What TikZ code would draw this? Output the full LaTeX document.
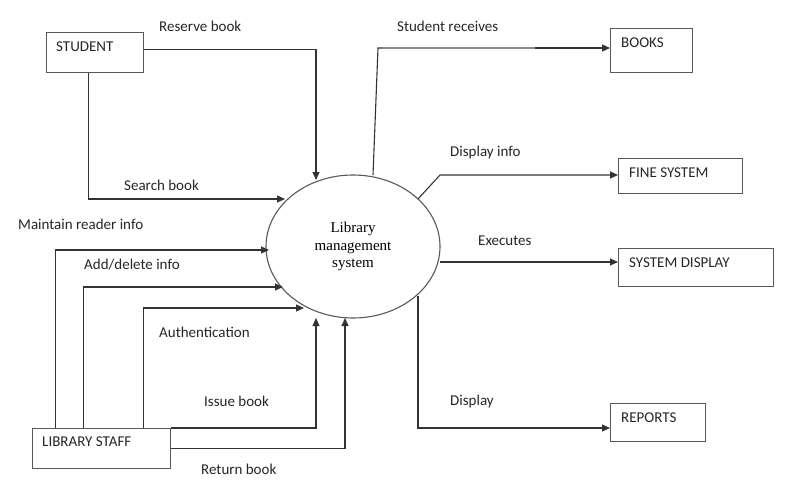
\documentclass[tikz,border=0pt]{standalone}
\usepackage{fontspec}
\setmainfont{Carlito}
\newfontfamily\serifcap{Liberation Serif}
\usetikzlibrary{arrows.meta,shapes.geometric}
\begin{document}
\begin{tikzpicture}[x=1pt,y=-1pt,
  every node/.style={font=\fontsize{15}{17}\selectfont},
  box/.style={draw=black!65,line width=1.1pt,anchor=north west,inner sep=0pt},
  lbl/.style={anchor=west,inner sep=0pt,text=black!85},
  arr/.style={draw=black!80,line width=1.1pt,-{Triangle[length=8pt,width=7pt]}},
  ln/.style={draw=black!80,line width=1.1pt}]
\useasboundingbox[fill=white] (0,0) rectangle (794,495);
% boxes
\node[box,minimum width=97pt,minimum height=40pt] (student) at (46,32) {};
\node[box,minimum width=138pt,minimum height=40pt] (staff) at (32,428) {};
\node[box,minimum width=82pt,minimum height=44pt] (books) at (610,28) {};
\node[box,minimum width=124pt,minimum height=35pt] (fine) at (618,158) {};
\node[box,minimum width=155pt,minimum height=38pt] (sysd) at (618,248) {};
\node[box,minimum width=95pt,minimum height=38pt] (reports) at (610,403) {};
% box texts
\node[lbl] (tstudent) at (56,47) {STUDENT};
\node[lbl] (tstaff) at (42,442) {LIBRARY STAFF};
\node[lbl] (tbooks) at (621,43) {BOOKS};
\node[lbl] (tfine) at (629,173) {FINE SYSTEM};
\node[lbl] (tsysd) at (629,263) {SYSTEM DISPLAY};
\node[lbl] (treports) at (621,418) {REPORTS};
% process
\node[ellipse,draw=black!65,line width=1.1pt,minimum width=174pt,minimum height=143pt,inner sep=0pt,
      align=center,font=\serifcap\fontsize{15}{17.5}\selectfont] (lms) at (353,246.5)
      {\raisebox{-2.5pt}{\parbox{80pt}{\centering Library\\management\\system}}};
% connector end points
\coordinate (rbEnd) at (316,180);
\coordinate (sbEnd) at (285,199);
\coordinate (mEnd) at (269,250);
\coordinate (aEnd) at (283,287);
\coordinate (auEnd) at (304,308);
\coordinate (ibEnd) at (316,318);
\coordinate (rtEnd) at (345,318);
\coordinate (sr0) at (373,175);
\coordinate (sr1) at (378,48);
\coordinate (di0) at (418,199);
\coordinate (di1) at (440,175);
\coordinate (ex0) at (440,262);
\coordinate (dp0) at (418,296);
\coordinate (dp1) at (418,428);
% left connectors
\draw[arr] ([yshift=3pt]student.east) -| (rbEnd);
\draw[arr] ([xshift=-6.5pt]student.south) |- (sbEnd);
\draw[arr] ([xshift=-46pt]staff.north) |- (mEnd);
\draw[arr] ([xshift=-18pt]staff.north) |- (aEnd);
\draw[arr] ([xshift=42pt]staff.north) |- (auEnd);
\draw[arr] (staff.north east) -| (ibEnd);
\draw[arr] (staff.east) -| (rtEnd);
% right connectors
\draw[ln] (sr0) -- (sr1) -- ([xshift=5pt]sr1);
\draw[ln,draw=black!45] ([xshift=5pt]sr1) -- ([xshift=-75pt]sr1 -| books.west);
\draw[arr] ([xshift=-75pt]sr1 -| books.west) -- (sr1 -| books.west);
\draw[arr] (di0) -- (di1) -- (di1 -| fine.west);
\draw[arr] (ex0) -- (ex0 -| sysd.west);
\draw[arr] (dp0) -- (dp1) -- (dp1 -| reports.west);
% labels
\node[lbl] (lreserve) at (159,26) {Reserve book};
\node[lbl] (lsearch) at (124,185) {Search book};
\node[lbl] (lmaintain) at (18,224) {Maintain reader info};
\node[lbl] (ladd) at (84,265) {Add/delete info};
\node[lbl] (lauth) at (159,332) {Authentication};
\node[lbl] (lissue) at (204,401) {Issue book};
\node[lbl] (lreturn) at (201,469) {Return book};
\node[lbl] (lrecv) at (397,26) {Student receives};
\node[lbl] (ldinfo) at (450,152) {Display info};
\node[lbl] (lexec) at (478,241) {Executes};
\node[lbl] (ldisp) at (450,401) {Display};
\end{tikzpicture}
\end{document}
